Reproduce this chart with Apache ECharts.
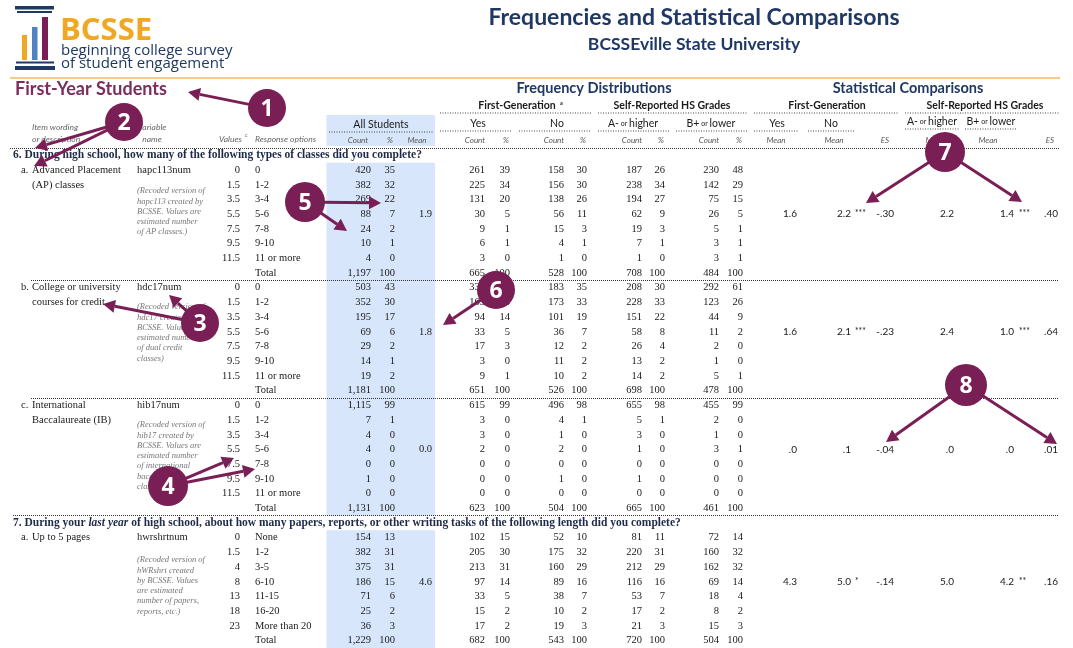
<!DOCTYPE html>
<html lang="en">
<head>
<meta charset="UTF-8">
<title>BCSSE - Frequencies and Statistical Comparisons</title>
<script src="https://cdn.jsdelivr.net/npm/echarts@6.0.0/dist/echarts.min.js"></script>
<style>
    html, body { margin: 0; padding: 0; background: #fff; }
    #chart { width: 1073px; height: 648px; }
</style>
</head>
<body>
<div id="chart"></div>
<script>
// ---- data ----
const questions = [
    '{b|6. During high school, how many of the following types of classes did you complete?}',
    '{b|7. During your }{bi|last year}{b| of high school, about how many papers, reports, or other writing tasks of the following length did you complete?}'
];
const itemLetters = ['a.', 'b.', 'c.', 'a.'];
const itemWording = [
    ['Advanced Placement', '(AP) classes'],
    ['College or university', 'courses for credit'],
    ['International', 'Baccalaureate (IB)'],
    ['Up to 5 pages']
];
const varNames = ['hapc113num', 'hdc17num', 'hib17num', 'hwrshrtnum'];
const recodeNotes = [
    ['(Recoded version of', 'hapc113 created by', 'BCSSE. Values are', 'estimated number', 'of AP classes.)'],
    ['(Recoded version of', 'hdc17 created by', 'BCSSE. Values are', 'estimated number', 'of dual credit', 'classes)'],
    ['(Recoded version of', 'hib17 created by', 'BCSSE. Values are', 'estimated number', 'of international', 'baccalaureate', 'classes)'],
    ['(Recoded version of', 'hWRshrt created', 'by BCSSE. Values', 'are estimated', 'number of papers,', 'reports, etc.)']
];
const values6 = ['0', '1.5', '3.5', '5.5', '7.5', '9.5', '11.5'];
const options6 = ['0', '1-2', '3-4', '5-6', '7-8', '9-10', '11 or more'];
const values7 = ['0', '1.5', '4', '8', '13', '18', '23'];
const options7 = ['None', '1-2', '3-5', '6-10', '11-15', '16-20', 'More than 20'];

// counts and percents per item (last entry = Total)
const allCount = [
    [420, 382, 269, 88, 24, 10, 4, 1197],
    [503, 352, 195, 69, 29, 14, 19, 1181],
    [1115, 7, 4, 4, 0, 1, 0, 1131],
    [154, 382, 375, 186, 71, 25, 36, 1229]
];
const allPct = [
    [35, 32, 22, 7, 2, 1, 0, 100],
    [43, 30, 17, 6, 2, 1, 2, 100],
    [99, 1, 0, 0, 0, 0, 0, 100],
    [13, 31, 31, 15, 6, 2, 3, 100]
];
const allMean = [1.9, 1.8, 0.0, 4.6];
const fgYesCount = [
    [261, 225, 131, 30, 9, 6, 3, 665],
    [332, 163, 94, 33, 17, 3, 9, 651],
    [615, 3, 3, 2, 0, 0, 0, 623],
    [102, 205, 213, 97, 33, 15, 17, 682]
];
const fgYesPct = [
    [39, 34, 20, 5, 1, 1, 0, 100],
    [51, 25, 14, 5, 3, 0, 1, 100],
    [99, 0, 0, 0, 0, 0, 0, 100],
    [15, 30, 31, 14, 5, 2, 2, 100]
];
const fgNoCount = [
    [158, 156, 138, 56, 15, 4, 1, 528],
    [183, 173, 101, 36, 12, 11, 10, 526],
    [496, 4, 1, 2, 0, 1, 0, 504],
    [52, 175, 160, 89, 38, 10, 19, 543]
];
const fgNoPct = [
    [30, 30, 26, 11, 3, 1, 0, 100],
    [35, 33, 19, 7, 2, 2, 2, 100],
    [98, 1, 0, 0, 0, 0, 0, 100],
    [10, 32, 29, 16, 7, 2, 3, 100]
];
const hsHighCount = [
    [187, 238, 194, 62, 19, 7, 1, 708],
    [208, 228, 151, 58, 26, 13, 14, 698],
    [655, 5, 3, 1, 0, 1, 0, 665],
    [81, 220, 212, 116, 53, 17, 21, 720]
];
const hsHighPct = [
    [26, 34, 27, 9, 3, 1, 0, 100],
    [30, 33, 22, 8, 4, 2, 2, 100],
    [98, 1, 0, 0, 0, 0, 0, 100],
    [11, 31, 29, 16, 7, 2, 3, 100]
];
const hsLowCount = [
    [230, 142, 75, 26, 5, 3, 3, 484],
    [292, 123, 44, 11, 2, 1, 5, 478],
    [455, 2, 1, 3, 0, 0, 0, 461],
    [72, 160, 162, 69, 18, 8, 15, 504]
];
const hsLowPct = [
    [48, 29, 15, 5, 1, 1, 1, 100],
    [61, 26, 9, 2, 0, 0, 1, 100],
    [99, 0, 0, 1, 0, 0, 0, 100],
    [14, 32, 32, 14, 4, 2, 3, 100]
];

// statistical comparisons
const fgYesMean = [1.6, 1.6, 0.0, 4.3];
const fgNoMean = [2.2, 2.1, 0.1, 5.0];
const fgSig = ['***', '***', '', '*'];
const fgES = [-0.30, -0.23, -0.04, -0.14];
const hsHighMean = [2.2, 2.4, 0.0, 5.0];
const hsLowMean = [1.4, 1.0, 0.0, 4.2];
const hsSig = ['***', '***', '', '**'];
const hsES = [0.40, 0.64, 0.01, 0.16];

// ---- layout ----
const NAVY = '#1F3864', MAROON = '#7A1E56', ORANGE = '#F0A822', BLUE = '#4F81C4', BAND = '#D7E6FA';
const SERIF = '"Liberation Serif", "DejaVu Serif", serif';
const SANS = 'Lato, "Liberation Sans", sans-serif';
const LOGOF = '"Open Sans", Lato, sans-serif';

const itemStart = [1, 9, 17, 26];      // table row of each item's first line
const questionRow = [0, 25];
const noteTop = [191, 307, 425, 560];
// x of column edges (right edge for numbers)
const X = {
    letter: 21, wording: 32, varName: 137, value: 240, option: 255,
    allCount: 371, allPct: 395, allMean: 432,
    freq: [[485, 510], [564, 587], [642, 665], [719, 743]],
    fgYes: 797, fgNo: 851, fgES: 894, hsHigh: 954, hsLow: 1014, hsES: 1058
};

const fmtCount = n => n.toLocaleString('en-US');
const fmtMean = v => v.toFixed(1).replace(/^0\./, '.');
const fmtES = v => v.toFixed(2).replace(/^(-?)0\./, '$1.');

// ---- cells ----
const serifRight = [], serifLeft = [], statRight = [], stars = [], qText = [];
questionRow.forEach((r, i) => qText.push([13, r, questions[i]]));

for (let it = 0; it < 4; it++) {
    const r0 = itemStart[it];
    const vals = it < 3 ? values6 : values7;
    const opts = it < 3 ? options6 : options7;
    serifLeft.push([X.letter, r0, itemLetters[it]]);
    itemWording[it].forEach((w, k) => serifLeft.push([X.wording, r0 + k, w]));
    serifLeft.push([X.varName, r0, varNames[it]]);
    for (let k = 0; k < 7; k++) {
        serifRight.push([X.value, r0 + k, vals[k]]);
        serifLeft.push([X.option, r0 + k, opts[k]]);
    }
    serifLeft.push([X.option, r0 + 7, 'Total']);

    const groups = [
        [allCount, allPct, X.allCount, X.allPct],
        [fgYesCount, fgYesPct, X.freq[0][0], X.freq[0][1]],
        [fgNoCount, fgNoPct, X.freq[1][0], X.freq[1][1]],
        [hsHighCount, hsHighPct, X.freq[2][0], X.freq[2][1]],
        [hsLowCount, hsLowPct, X.freq[3][0], X.freq[3][1]]
    ];
    groups.forEach(g => {
        for (let k = 0; k < 8; k++) {
            serifRight.push([g[2], r0 + k, fmtCount(g[0][it][k])]);
            serifRight.push([g[3], r0 + k, String(g[1][it][k])]);
        }
    });

    const mr = r0 + 3;
    serifRight.push([X.allMean, mr, allMean[it].toFixed(1)]);
    statRight.push([X.fgYes, mr, fmtMean(fgYesMean[it])]);
    statRight.push([X.fgNo, mr, fmtMean(fgNoMean[it])]);
    statRight.push([X.fgES, mr, fmtES(fgES[it])]);
    statRight.push([X.hsHigh, mr, fmtMean(hsHighMean[it])]);
    statRight.push([X.hsLow, mr, fmtMean(hsLowMean[it])]);
    statRight.push([X.hsES, mr, fmtES(hsES[it])]);
    stars.push([X.fgNo + 4, mr, fgSig[it]]);
    stars.push([X.hsLow + 5, mr, hsSig[it]]);
}

const RICH = {
    b: { fontSize: 11.5, fontWeight: 'bold', fontFamily: SERIF, fill: '#1F2A48' },
    bi: { fontSize: 11.5, fontWeight: 'bold', fontStyle: 'italic', fontFamily: SERIF, fill: '#1F2A48' }
};

function textLayer(items, align, font, color, dy) {
    return {
        type: 'custom',
        coordinateSystem: 'cartesian2d',
        silent: true,
        z: 3,
        data: items.map(d => [d[0], d[1]]),
        encode: { x: 0, y: 1 },
        renderItem: function (params, api) {
            const p = api.coord([api.value(0), api.value(1)]);
            return {
                type: 'text',
                x: p[0],
                y: p[1] + (dy || 0),
                style: {
                    text: items[params.dataIndex][2],
                    align: align, verticalAlign: 'middle',
                    font: font, fill: color, rich: RICH
                }
            };
        }
    };
}

// ---- header graphics ----
const g = [];
function txt(x, y, text, font, fill, align, rich) {
    g.push({ type: 'text', x: x, y: y, z: 10, style: { text: text, font: font, fill: fill, align: align || 'left', verticalAlign: 'middle', rich: rich } });
}
function dots(x1, y1, x2, y2) {
    g.push({ type: 'line', z: 5, shape: { x1: x1, y1: y1, x2: x2, y2: y2 }, style: { stroke: '#444', lineWidth: 1, lineDash: [1, 1.5] } });
}
function box(x, y, w, h, fill, z) {
    g.push({ type: 'rect', z: z || 1, shape: { x: x, y: y, width: w, height: h }, style: { fill: fill } });
}

// logo
box(15, 6, 39, 3.5, NAVY, 10);
box(17, 11, 35, 2, NAVY, 10);
box(22, 35, 5, 25, ORANGE, 10);
box(32, 27, 5.5, 33, BLUE, 10);
box(42, 17, 6, 43, MAROON, 10);
box(16, 61.5, 38, 2, NAVY, 10);
box(15, 66, 40, 4, NAVY, 10);
txt(60, 31, 'BCSSE', 'bold 31px ' + LOGOF, ORANGE);
txt(61, 51, 'beginning college survey', '15px ' + LOGOF, NAVY);
txt(61, 64, 'of student engagement', '15px ' + LOGOF, NAVY);

txt(694, 18, 'Frequencies and Statistical Comparisons', 'bold 23px ' + SANS, NAVY, 'center');
txt(694, 44, 'BCSSEville State University', 'bold 17.5px ' + SANS, NAVY, 'center');
g.push({ type: 'line', z: 5, shape: { x1: 10, y1: 78, x2: 1060, y2: 78 }, style: { stroke: '#F6C98C', lineWidth: 2 } });
txt(15, 89, 'First-Year Students', 'bold 18px ' + SANS, '#7B2D5E');

txt(594, 88, 'Frequency Distributions', 'bold 14.5px ' + SANS, NAVY, 'center');
txt(908, 88, 'Statistical Comparisons', 'bold 14.5px ' + SANS, NAVY, 'center');

const subFont = 'bold 10.5px ' + SANS;
txt(517, 106, 'First-Generation', subFont, '#1a1a1a', 'center');
txt(560, 103, 'a', 'bold 5.5px ' + SANS, '#1a1a1a');
txt(672, 106, 'Self-Reported HS Grades', subFont, '#1a1a1a', 'center');
txt(827, 106, 'First-Generation', subFont, '#1a1a1a', 'center');
txt(985, 106, 'Self-Reported HS Grades', subFont, '#1a1a1a', 'center');
[[440, 591], [598, 747], [754, 898], [905, 1059]].forEach(s => dots(s[0], 113, s[1], 113));

const gradeRich = {
    n: { fontSize: 10.5, fontFamily: SANS, fill: '#1a1a1a' },
    s: { fontSize: 7, fontFamily: SANS, fill: '#1a1a1a' }
};
const ynFont = '10.5px ' + SANS;
txt(478, 124, 'Yes', ynFont, '#1a1a1a', 'center');
txt(557, 124, 'No', ynFont, '#1a1a1a', 'center');
txt(633, 124, '{n|A-}{s| or }{n|higher}', ynFont, '#1a1a1a', 'center', gradeRich);
txt(711, 124, '{n|B+}{s| or }{n|lower}', ynFont, '#1a1a1a', 'center', gradeRich);
txt(777, 124, 'Yes', ynFont, '#1a1a1a', 'center');
txt(831, 124, 'No', ynFont, '#1a1a1a', 'center');
txt(932, 122, '{n|A-}{s| or }{n|higher}', ynFont, '#1a1a1a', 'center', gradeRich);
txt(991, 122, '{n|B+}{s| or }{n|lower}', ynFont, '#1a1a1a', 'center', gradeRich);
[[440, 511], [519, 591], [598, 669], [676, 747], [754, 798], [808, 854]].forEach(s => dots(s[0], 131, s[1], 131));
[[905, 959], [965, 1017]].forEach(s => dots(s[0], 129, s[1], 129));

const capFont = 'italic 8px ' + SANS;
const capCol = '#555';
X.freq.forEach(c => {
    txt(c[0] - 10, 140, 'Count', capFont, capCol, 'center');
    txt(c[1] - 4, 140, '%', capFont, capCol, 'center');
});
[[776, 'Mean'], [834, 'Mean'], [885, 'ES'], [935, 'Mean'], [988, 'Mean'], [1050, 'ES']].forEach(h => txt(h[0], 140, h[1], capFont, capCol, 'center'));

// left header and All Students box
const leftCap = 'italic 8.5px ' + SANS;
txt(32, 127, 'Item wording', leftCap, '#666');
txt(32, 139, 'or description', leftCap, '#666');
txt(152, 127, 'Variable', leftCap, '#666', 'center');
txt(152, 139, 'name', leftCap, '#666', 'center');
txt(242, 139, 'Values', leftCap, '#666', 'right');
txt(245, 135, 'c', 'italic 5.5px ' + SANS, '#666');
txt(255, 139, 'Response options', leftCap, '#666');
box(326.5, 115, 108.5, 31, BAND, 1);
txt(381, 125, 'All Students', '10.5px ' + SANS, '#1a1a1a', 'center');
dots(329, 132, 433, 132);
txt(358, 140, 'Count', capFont, capCol, 'center');
txt(390, 140, '%', capFont, capCol, 'center');
txt(417, 140, 'Mean', capFont, capCol, 'center');

// recode notes
recodeNotes.forEach((lines, i) => {
    lines.forEach((l, k) => txt(X.varName, noteTop[i] + k * 10.3, l, 'italic 8.5px ' + SERIF, '#777'));
});

// ---- numbered call-outs ----
function arrow(x1, y1, x2, y2) {
    const a = Math.atan2(y2 - y1, x2 - x1), L = 12, W = 6.5;
    const bx = x2 - L * Math.cos(a), by = y2 - L * Math.sin(a);
    const nx = -Math.sin(a) * W, ny = Math.cos(a) * W;
    g.push({ type: 'line', z: 50, shape: { x1: x1, y1: y1, x2: bx, y2: by }, style: { stroke: MAROON, lineWidth: 3 } });
    g.push({ type: 'polygon', z: 50, shape: { points: [[x2, y2], [bx + nx, by + ny], [bx - nx, by - ny]] }, style: { fill: MAROON } });
}
function callout(n, cx, cy, r, targets) {
    targets.forEach(t => {
        const a = Math.atan2(t[1] - cy, t[0] - cx);
        arrow(cx + Math.cos(a) * (r - 2), cy + Math.sin(a) * (r - 2), t[0], t[1]);
    });
    g.push({ type: 'circle', z: 51, shape: { cx: cx, cy: cy, r: r }, style: { fill: MAROON } });
    g.push({ type: 'text', z: 52, x: cx, y: cy + 1, style: { text: String(n), font: 'bold 23px ' + LOGOF, fill: '#fff', align: 'center', verticalAlign: 'middle' } });
}
callout(1, 267, 108, 19, [[188, 92]]);
callout(2, 124, 122, 19, [[35, 148], [34, 166]]);
callout(3, 200, 323, 19, [[103, 304], [169, 295]]);
callout(4, 168, 486, 20, [[234, 458], [255, 469]]);
callout(5, 305, 202, 20, [[381, 203], [347, 231]]);
callout(6, 496, 290, 19, [[443, 325]]);
callout(7, 945, 152, 20, [[866, 203], [1022, 202]]);
callout(8, 966, 385, 21, [[886, 442], [1057, 444]]);

// ---- chart ----
const chart = echarts.init(document.getElementById('chart'));
const option = {
    animation: false,
    grid: { left: 0, right: 0, top: 148, height: 500.7 },
    xAxis: { type: 'value', min: 0, max: 1073, show: false },
    yAxis: { type: 'value', inverse: true, min: -0.5, max: 33.5, show: false },
    graphic: { elements: g },
    series: [
        {
            type: 'scatter', data: [[0, -0.5]], symbolSize: 0, silent: true, z: 0,
            markArea: {
                silent: true,
                itemStyle: { color: BAND },
                data: [
                    [{ coord: [326.5, 0.5] }, { coord: [435, 24.5] }],
                    [{ coord: [326.5, 25.5] }, { coord: [435, 33.5] }]
                ]
            },
            markLine: {
                silent: true, symbol: ['none', 'none'], label: { show: false },
                lineStyle: { type: 'dotted', color: '#333', width: 1 },
                data: [
                    [{ coord: [10, -0.5] }, { coord: [1060, -0.5] }],
                    [{ coord: [31, 8.5] }, { coord: [1058, 8.5] }],
                    [{ coord: [31, 16.5] }, { coord: [1058, 16.5] }],
                    [{ coord: [13, 24.5] }, { coord: [1058, 24.5] }]
                ]
            }
        },
        textLayer(qText, 'left', 'bold 11.5px ' + SERIF, '#1F2A48'),
        textLayer(serifLeft, 'left', '10.5px ' + SERIF, '#1a1a1a'),
        textLayer(serifRight, 'right', '10.5px ' + SERIF, '#1a1a1a'),
        textLayer(statRight, 'right', '10px ' + SANS, '#1a1a1a'),
        textLayer(stars, 'left', '8.5px ' + SANS, '#1a1a1a', -1)
    ]
};
chart.setOption(option);
</script>
</body>
</html>
